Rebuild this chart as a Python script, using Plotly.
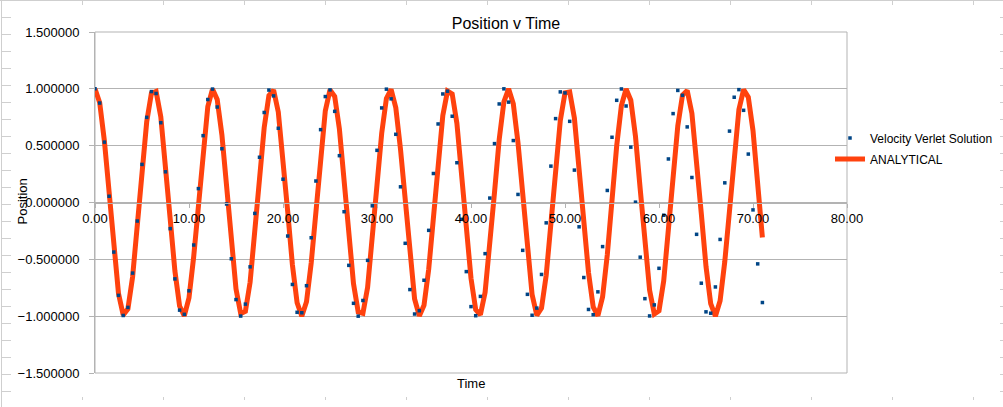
import plotly.graph_objects as go

time = [
    0.0, 0.5, 1.0, 1.5, 2.0, 2.5, 3.0, 3.5, 4.0, 4.5, 5.0, 5.5, 6.0,
    6.5, 7.0, 7.5, 8.0, 8.5, 9.0, 9.5, 10.0, 10.5, 11.0, 11.5, 12.0,
    12.5, 13.0, 13.5, 14.0, 14.5, 15.0, 15.5, 16.0, 16.5, 17.0, 17.5, 18.0, 18.5,
    19.0, 19.5, 20.0, 20.5, 21.0, 21.5, 22.0, 22.5, 23.0, 23.5, 24.0, 24.5, 25.0,
    25.5, 26.0, 26.5, 27.0, 27.5, 28.0, 28.5, 29.0, 29.5, 30.0, 30.5, 31.0,
    31.5, 32.0, 32.5, 33.0, 33.5, 34.0, 34.5, 35.0, 35.5, 36.0, 36.5, 37.0, 37.5,
    38.0, 38.5, 39.0, 39.5, 40.0, 40.5, 41.0, 41.5, 42.0, 42.5, 43.0, 43.5,
    44.0, 44.5, 45.0, 45.5, 46.0, 46.5, 47.0, 47.5, 48.0, 48.5, 49.0, 49.5, 50.0,
    50.5, 51.0, 51.5, 52.0, 52.5, 53.0, 53.5, 54.0, 54.5, 55.0, 55.5, 56.0,
    56.5, 57.0, 57.5, 58.0, 58.5, 59.0, 59.5, 60.0, 60.5, 61.0, 61.5, 62.0, 62.5,
    63.0, 63.5, 64.0, 64.5, 65.0, 65.5, 66.0, 66.5, 67.0, 67.5, 68.0, 68.5, 69.0,
    69.5, 70.0, 70.5, 71.0,
]

verlet = [
    1.000, 0.875, 0.531, 0.055, -0.436, -0.817, -0.994, -0.923, -0.621, -0.163, 0.335, 0.749, 0.976,
    0.959, 0.702, 0.270, -0.230, -0.672, -0.947, -0.984, -0.777, -0.374, 0.122, 0.588, 0.906,
    0.998, 0.840, 0.473, -0.013, -0.495, -0.854, -0.999, -0.894, -0.566, -0.096, 0.398, 0.792, 0.989,
    0.938, 0.653, 0.205, -0.295, -0.721, -0.966, -0.970, -0.732, -0.310, 0.189, 0.641, 0.932, 0.991,
    0.802, 0.412, -0.081, -0.553, -0.887, -1.000, -0.862, -0.509, -0.029, 0.459, 0.832, 0.997,
    0.912, 0.600, 0.138, -0.359, -0.766, -0.981, -0.952, -0.684, -0.245, 0.255, 0.691, 0.955, 0.979,
    0.759, 0.350, -0.148, -0.608, -0.916, -0.996, -0.826, -0.450, 0.039, 0.518, 0.867, 1.000,
    0.883, 0.545, 0.071, -0.421, -0.808, -0.992, -0.929, -0.633, -0.179, 0.320, 0.738, 0.973, 0.964,
    0.714, 0.285, -0.214, -0.660, -0.941, -0.987, -0.786, -0.388, 0.106, 0.574, 0.899, 0.999,
    0.849, 0.487, 0.003, -0.481, -0.846, -0.998, -0.901, -0.579, -0.112, 0.383, 0.782, 0.986, 0.943,
    0.665, 0.220, -0.280, -0.710, -0.962, -0.974, -0.743, -0.325, 0.173, 0.628, 0.926, 0.993, 0.811,
    0.426, -0.065, -0.540, -0.880,
]

analytical = [
    1.000, 0.878, 0.540, 0.071, -0.416, -0.801, -0.990, -0.936, -0.654, -0.211, 0.284, 0.709, 0.960,
    0.977, 0.754, 0.347, -0.146, -0.602, -0.911, -0.997, -0.839, -0.476, 0.004, 0.483, 0.844,
    0.998, 0.907, 0.595, 0.137, -0.355, -0.760, -0.978, -0.958, -0.702, -0.275, 0.219, 0.660, 0.940,
    0.989, 0.796, 0.408, -0.080, -0.548, -0.882, -1.000, -0.873, -0.533, -0.062, 0.424, 0.806, 0.991,
    0.933, 0.647, 0.202, -0.292, -0.714, -0.963, -0.975, -0.748, -0.338, 0.154, 0.609, 0.915,
    0.996, 0.834, 0.469, -0.013, -0.491, -0.849, -0.998, -0.904, -0.588, -0.128, 0.364, 0.765, 0.980,
    0.955, 0.696, 0.267, -0.228, -0.667, -0.942, -0.988, -0.790, -0.400, 0.088, 0.555, 0.886,
    1.000, 0.869, 0.525, 0.053, -0.432, -0.811, -0.992, -0.929, -0.640, -0.193, 0.301, 0.721, 0.965,
    0.973, 0.742, 0.330, -0.163, -0.616, -0.918, -0.996, -0.829, -0.460, 0.022, 0.499, 0.853,
    0.999, 0.900, 0.581, 0.119, -0.372, -0.771, -0.981, -0.952, -0.690, -0.258, 0.236, 0.674, 0.945,
    0.986, 0.785, 0.392, -0.097, -0.562, -0.890, -1.000, -0.865, -0.518, -0.044, 0.440, 0.817, 0.993,
    0.927, 0.633, 0.185, -0.308,
]

W, H = 1003, 407
ML, MR, MT, MB = 95, 156, 32, 34
PW, PH = W - ML - MR, H - MT - MB
FONT = "Liberation Sans, Arial, sans-serif"
GRID = "#b3b3b3"
SHEET = "#cfcfcf"


def px(x):
    return (x - ML) / PW


def py(y):
    return (H - MB - y) / PH


fig = go.Figure()
fig.add_trace(go.Scatter(
    x=time, y=analytical, mode="lines", name="ANALYTICAL",
    line=dict(color="#ff420e", width=5), legendrank=2, legendgroup="b",
))
fig.add_trace(go.Scatter(
    x=time, y=verlet, mode="markers", name="Velocity Verlet Solution",
    marker=dict(color="#004586", size=3.5, symbol="square", line=dict(width=0)),
    legendrank=1, legendgroup="a",
))

shapes = [dict(type="rect", xref="paper", yref="paper", x0=0, x1=1, y0=0, y1=1,
               line=dict(color=GRID, width=1), layer="below")]
# spreadsheet grid remnants around the embedded chart
shapes.append(dict(type="line", xref="paper", yref="paper", x0=px(1.5), x1=px(1.5),
                   y0=py(0), y1=py(H), line=dict(color=SHEET, width=1)))
shapes.append(dict(type="line", xref="paper", yref="paper", x0=px(0), x1=px(W),
                   y0=py(0.5), y1=py(0.5), line=dict(color=SHEET, width=1)))
for r in range(1, 24):
    yy = py(17 * r + 0.5)
    shapes.append(dict(type="line", xref="paper", yref="paper", x0=px(2), x1=px(11),
                       y0=yy, y1=yy, line=dict(color=SHEET, width=1)))
    shapes.append(dict(type="line", xref="paper", yref="paper", x0=px(1000), x1=px(W),
                       y0=yy, y1=yy, line=dict(color=SHEET, width=1)))
for c in range(12):
    xx = px(82.5 + 81 * c)
    shapes.append(dict(type="line", xref="paper", yref="paper", x0=xx, x1=xx,
                       y0=py(0), y1=py(5), line=dict(color=SHEET, width=1)))
    shapes.append(dict(type="line", xref="paper", yref="paper", x0=xx, x1=xx,
                       y0=py(397), y1=py(400), line=dict(color=SHEET, width=1)))

fig.update_layout(
    width=W, height=H,
    margin=dict(l=ML, r=MR, t=MT, b=MB, autoexpand=False),
    paper_bgcolor="white", plot_bgcolor="white",
    font=dict(family=FONT, size=13, color="#000000"),
    title=dict(text="Position v Time", x=506 / W, xanchor="center",
               xref="container", yref="container", y=1 - 23 / H, yanchor="middle",
               font=dict(family=FONT, size=16, color="#000000")),
    showlegend=True,
    legend=dict(x=px(830), xanchor="left", y=py(123.5), yanchor="top",
                traceorder="grouped", tracegroupgap=2,
                font=dict(family=FONT, size=12, color="#000000"),
                bgcolor="rgba(0,0,0,0)", borderwidth=0),
    xaxis=dict(range=[0, 80], dtick=10, tick0=0, tickformat=".2f", automargin=False,
               anchor="free", position=0.5, showline=True, linecolor=GRID, linewidth=1,
               showgrid=False, zeroline=False, ticks="outside", ticklen=4,
               tickcolor=GRID, tickfont=dict(family=FONT, size=13)),
    yaxis=dict(range=[-1.5, 1.5], dtick=0.5, tick0=0, tickformat=".6f", automargin=False,
               showline=True, linecolor=GRID, linewidth=1, showgrid=True,
               gridcolor=GRID, gridwidth=1, zeroline=False, ticks="outside",
               ticklen=5, tickcolor=GRID, ticklabelstandoff=7,
               tickfont=dict(family=FONT, size=13)),
    shapes=shapes,
    annotations=[
        dict(text="Time", xref="paper", yref="paper", x=px(471), y=py(383),
             xanchor="center", yanchor="middle", showarrow=False,
             font=dict(family=FONT, size=13, color="#000000")),
        dict(text="Position", xref="paper", yref="paper", x=px(21.5), y=py(202),
             xanchor="center", yanchor="middle", showarrow=False, textangle=-90,
             font=dict(family=FONT, size=13, color="#000000")),
    ],
)

fig.write_html(
    "out.html",
    config={"displayModeBar": False},
    post_script="document.body.style.margin='0';document.body.style.padding='0';"
                "document.documentElement.style.overflow='hidden';",
)
